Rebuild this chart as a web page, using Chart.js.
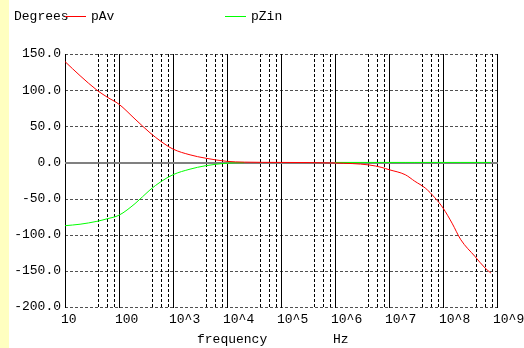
<!DOCTYPE html>
<html>
<head>
<meta charset="utf-8">
<script src="https://cdn.jsdelivr.net/npm/chart.js@4.4.1/dist/chart.umd.min.js"></script>
<style>
  html, body { margin: 0; padding: 0; background: #fff; }
  #wrap {
    position: relative; width: 524px; height: 348px;
    background: linear-gradient(to right, #ffffc0 9px, #ffffff 9px);
  }
</style>
</head>
<body>
<div id="wrap"><canvas id="phase"></canvas></div>
<script>
// frequency points (Hz)
const freqs = [10, 19, 39, 60, 100, 198, 375, 600, 1000, 2070, 3920, 1e4, 2.1e4, 1e5,
  1e6, 4.3e6, 7.4e6, 1e7, 2e7, 3e7, 4.7e7, 7.1e7, 1e8, 1.47e8, 2.14e8, 3.9e8, 6e8, 7.7e8];

// phase of the voltage gain (degrees)
const pAv = [139.5, 120, 100, 90.5, 80.5, 60, 41, 29, 18.5, 10.5, 6, 1.5, 0.4, 0,
  -0.8, -3.5, -7, -10, -17, -26, -35.5, -49, -63, -84, -107, -130, -146, -153];

// phase of the input impedance (degrees)
const pZin = [-87.5, -85.5, -81.5, -78, -73, -57, -38, -26.5, -17, -9.3, -4.7, -1, -0.3, null,
  0, 0, 0, 0, 0, 0, 0, 0, 0, 0, 0, 0, 0, 0];

const yTicks = [150, 100, 50, 0, -50, -100, -150, -200];
const decades = [10, 100, 1e3, 1e4, 1e5, 1e6, 1e7, 1e8, 1e9];
const decadeLabels = ['10', '100', '10^3', '10^4', '10^5', '10^6', '10^7', '10^8', '10^9'];
const minorSteps = [4, 6, 8];

const FONT = '13px "Liberation Mono", "DejaVu Sans Mono", monospace';

function toPoints(ys) {
  return freqs.map((f, i) => ({ x: f, y: ys[i] }));
}

function hline(ctx, x1, x2, y) {
  ctx.beginPath(); ctx.moveTo(x1, y); ctx.lineTo(x2, y); ctx.stroke();
}
function vline(ctx, x, y1, y2) {
  ctx.beginPath(); ctx.moveTo(x, y1); ctx.lineTo(x, y2); ctx.stroke();
}

// grid, zero line and all the text around the plot
const plotFrame = {
  id: 'plotFrame',
  beforeDatasetsDraw(chart) {
    const { ctx, chartArea: a, scales: { x, y } } = chart;
    ctx.save();
    ctx.lineWidth = 1;

    // horizontal dashed grid
    ctx.strokeStyle = '#505050';
    ctx.setLineDash([3, 2]);
    yTicks.forEach(v => {
      if (v === 0) return;
      const py = Math.round(y.getPixelForValue(v)) + 0.5;
      hline(ctx, a.left, a.right, py);
    });

    // minor verticals at 4, 6, 8 of each decade
    ctx.strokeStyle = '#000';
    decades.slice(0, -1).forEach(d => {
      minorSteps.forEach(m => {
        const px = Math.round(x.getPixelForValue(d * m)) + 0.5;
        vline(ctx, px, a.top, a.bottom);
      });
    });

    // decade lines
    ctx.setLineDash([]);
    decades.forEach(d => {
      const px = Math.round(x.getPixelForValue(d)) + 0.5;
      vline(ctx, px, a.top, a.bottom + 1);
    });

    // zero line
    ctx.strokeStyle = '#808080';
    ctx.lineWidth = 2;
    hline(ctx, a.left, a.right + 1, Math.round(y.getPixelForValue(0)) + 1);
    ctx.restore();
  },
  afterDraw(chart) {
    const { ctx, scales: { x } } = chart;
    ctx.save();
    ctx.font = FONT;
    ctx.fillStyle = '#000';
    ctx.textBaseline = 'middle';
    ctx.textAlign = 'left';

    // decade labels
    decades.forEach((d, i) => {
      ctx.fillText(decadeLabels[i], Math.round(x.getPixelForValue(d)) - 4, 320);
    });

    // axis titles
    ctx.fillText('frequency', 197, 340);
    ctx.fillText('Hz', 333, 340);
    ctx.fillText('Degrees', 14, 17);

    // legend
    const legendX = [65, 225];
    chart.data.datasets.forEach((ds, i) => {
      const lx = legendX[i];
      ctx.strokeStyle = ds.borderColor;
      ctx.lineWidth = 1;
      hline(ctx, lx, lx + 21, 16.5);
      ctx.fillText(ds.label, lx + 26, 17);
    });
    ctx.restore();
  }
};

new Chart(document.getElementById('phase'), {
  type: 'line',
  data: {
    datasets: [
      {
        label: 'pAv',
        data: toPoints(pAv),
        borderColor: '#ff0000',
        borderWidth: 1,
        pointRadius: 0,
        cubicInterpolationMode: 'monotone',
        spanGaps: false
      },
      {
        label: 'pZin',
        data: toPoints(pZin),
        borderColor: '#00ff00',
        borderWidth: 1,
        pointRadius: 0,
        cubicInterpolationMode: 'monotone',
        spanGaps: false
      }
    ]
  },
  options: {
    responsive: true,
    maintainAspectRatio: false,
    animation: false,
    events: [],
    layout: { padding: { top: 54, right: 27, left: 0, bottom: 0 } },
    plugins: {
      legend: { display: false },
      tooltip: { enabled: false }
    },
    scales: {
      x: {
        type: 'logarithmic',
        min: 10,
        max: 1e9,
        grid: { display: false, drawTicks: false },
        border: { display: false },
        ticks: { display: false },
        afterFit: s => { s.height = 41; }
      },
      y: {
        min: -200,
        max: 150,
        grid: { display: false, drawTicks: false },
        border: { display: false },
        ticks: {
          stepSize: 50,
          padding: 4,
          color: '#000',
          font: { family: '"Liberation Mono", "DejaVu Sans Mono", monospace', size: 13 },
          callback: v => v.toFixed(1)
        },
        afterFit: s => { s.width = 65; }
      }
    }
  },
  plugins: [plotFrame]
});
</script>
</body>
</html>
